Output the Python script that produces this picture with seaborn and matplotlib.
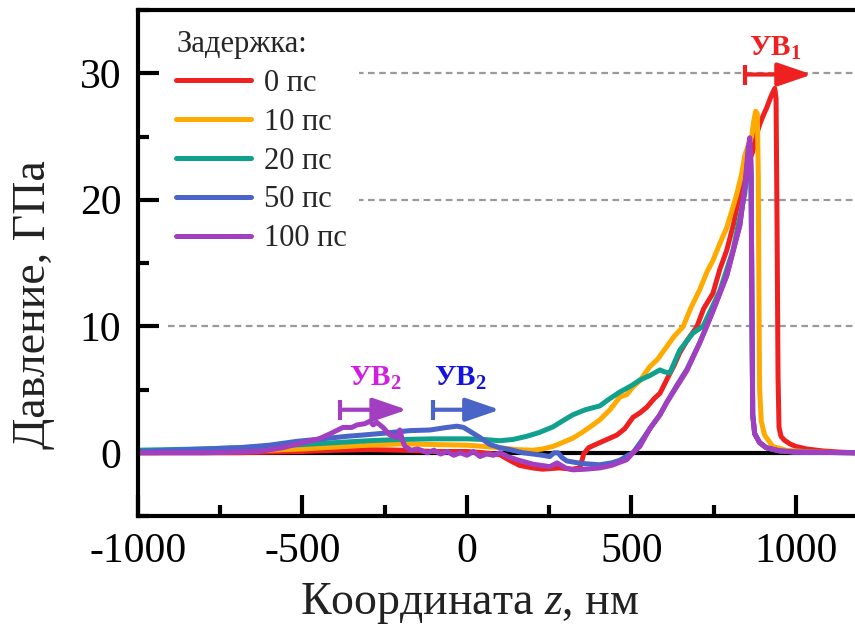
import matplotlib
matplotlib.use("Agg")
import matplotlib.pyplot as plt
import seaborn as sns
import pandas as pd
from matplotlib.ticker import MultipleLocator

sns.set_theme(style="white")
plt.rcParams['font.family'] = ['Liberation Serif', 'DejaVu Serif']
plt.rcParams['mathtext.fontset'] = 'custom'
plt.rcParams['mathtext.rm'] = 'Liberation Serif'
plt.rcParams['mathtext.it'] = 'Liberation Serif:italic'
plt.rcParams['mathtext.bf'] = 'Liberation Serif:bold'
plt.rcParams['axes.unicode_minus'] = False

# ---------------- data ----------------
labels = ["0 пс", "10 пс", "20 пс", "50 пс", "100 пс"]
colors = ["#ee2020", "#ffaa00", "#10a08e", "#4a64c8", "#a23fc0"]

z_0 = [-1000, -900, -800, -700, -600, -500, -400, -300, -200, -100, 0, 50, 100, 130, 160, 200,
       231, 280, 320, 343, 350, 355, 370, 404, 430, 456, 480, 505, 526, 547, 570, 587, 610,
       630, 647, 670, 699, 720, 748, 769, 790, 810, 830, 850, 869, 881, 891, 900, 912, 925,
       936, 940, 943, 946, 949, 955, 965, 982, 1000, 1033, 1080, 1134, 1180]
p_0 = [0.0, 0.0, 0.0, 0.0, 0.05, 0.1, 0.2, 0.25, 0.2, 0.1, 0.1, 0.0, -0.15, -0.6, -1.0, -1.2,
       -1.3, -1.2, -1.3, -1.2, -0.6, -0.1, 0.4, 0.8, 1.1, 1.4, 1.9, 2.8, 3.15, 3.6, 4.3, 4.7, 5.9,
       6.9, 7.9, 8.9, 9.95, 11.4, 12.6, 14.5, 16.0, 18.0, 20.5, 22.5, 23.8, 25.2, 26.0, 26.6, 27.3, 28.2,
       28.8, 28.0, 18.0, 6.0, 2.0, 1.3, 1.0, 0.7, 0.5, 0.3, 0.15, 0.05, 0.0]

z_10 = [-1000, -900, -800, -700, -600, -500, -400, -300, -200, -100, 0, 50, 100, 150, 201, 230,
        262, 290, 322, 350, 383, 404, 435, 465, 486, 505, 526, 556, 580, 608, 630, 657, 680, 708,
        730, 748, 770, 790, 810, 821, 835, 845, 858, 866, 872, 878, 883, 886, 888, 890, 895, 905,
        930, 970, 1050, 1180]
p_10 = [0.05, 0.05, 0.05, 0.1, 0.2, 0.3, 0.45, 0.6, 0.7, 0.65, 0.6, 0.5, 0.4, 0.25, 0.2, 0.3,
        0.5, 0.8, 1.15, 1.6, 2.2, 2.6, 3.4, 4.4, 4.6, 5.2, 5.7, 6.8, 7.4, 8.4, 9.2, 9.95, 11.4, 12.9,
        14.3, 15.2, 16.6, 17.8, 19.5, 20.5, 22.0, 23.5, 24.5, 25.0, 26.2, 27.0, 26.8, 22.0, 12.0, 5.0, 2.5, 1.4,
        0.5, 0.2, 0.05, 0.0]

z_20 = [-1000, -900, -800, -700, -600, -500, -400, -300, -200, -100, 0, 50, 100, 140, 182, 220,
        262, 290, 322, 360, 404, 430, 465, 500, 526, 556, 587, 600, 617, 647, 687, 718, 740, 769,
        809, 845, 855, 860, 864, 867, 869, 875, 890, 910, 950, 1000, 1180]
p_20 = [0.2, 0.25, 0.3, 0.4, 0.5, 0.65, 0.8, 0.95, 1.05, 1.1, 1.1, 1.05, 0.95, 1.05, 1.3, 1.6,
        2.05, 2.5, 3.0, 3.4, 3.7, 4.2, 4.8, 5.3, 5.75, 6.1, 6.55, 6.4, 6.3, 8.1, 9.45, 10.0, 11.2, 12.8,
        16.0, 20.5, 23.0, 23.8, 22.0, 10.0, 3.0, 1.5, 0.8, 0.4, 0.15, 0.05, 0.0]

z_50 = [-1000, -900, -800, -690, -600, -517, -440, -365, -316, -250, -213, -173, -112, -61, -30, -10,
        9, 40, 70, 100, 131, 170, 201, 230, 252, 265, 277, 290, 304, 350, 404, 440, 465, 490, 505,
        530, 556, 587, 608, 640, 669, 708, 729, 748, 790, 830, 845, 855, 860, 864, 867, 869, 875,
        890, 910, 950, 1000, 1180]
p_50 = [0.1, 0.2, 0.3, 0.4, 0.6, 0.9, 1.1, 1.3, 1.4, 1.55, 1.65, 1.75, 1.8, 2.0, 2.1, 2.0,
        1.7, 1.2, 0.65, 0.4, 0.25, 0.0, -0.1, -0.2, -0.3, 0.0, 0.0, -0.4, -0.65, -0.85, -0.95, -0.8, -0.6, -0.2, 0.0,
        0.9, 1.9, 3.0, 4.0, 5.4, 6.6, 8.7, 10.0, 11.2, 14.0, 18.0, 21.0, 23.5, 24.0, 22.0, 10.0, 3.0, 1.5,
        0.8, 0.4, 0.15, 0.05, 0.0]

z_100 = [-1000, -900, -800, -700, -620, -560, -498, -450, -416, -377, -350, -334, -310, -295, -285, -274,
         -255, -234, -213, -204, -195, -188, -170, -150, -120, -100, -80, -60, -40, -20, 0, 20, 40, 60,
         80, 100, 125, 152, 200, 252, 274, 300, 322, 360, 404, 440, 486, 505, 526, 556, 587, 608, 640,
         669, 708, 729, 748, 790, 830, 845, 855, 860, 864, 867, 869, 875, 890, 910, 950, 1000, 1180]
p_100 = [0.0, 0.0, 0.0, 0.05, 0.15, 0.4, 0.8, 1.1, 1.5, 2.0, 2.0, 2.2, 2.3, 2.5, 2.2, 2.4,
         2.0, 1.4, 1.2, 1.8, 0.9, 0.5, 0.2, 0.3, 0.0, 0.2, -0.1, 0.1, -0.2, 0.0, -0.2, 0.1, -0.3, -0.1,
         -0.2, 0.0, -0.3, -0.55, -0.9, -1.1, -0.8, -1.2, -1.35, -1.3, -1.2, -1.0, -0.55, 0.0, 0.5, 1.9, 3.0, 4.0, 5.3,
         6.5, 8.7, 10.0, 11.2, 14.0, 18.0, 21.0, 24.0, 24.9, 23.0, 10.0, 3.0, 1.5, 0.8, 0.4, 0.15, 0.05, 0.0]

grid_levels = [10, 20, 30]
x_ticks = [-1000, -500, 0, 500, 1000]
y_ticks = [0, 10, 20, 30]

ann_text = ["УВ$_\\mathbf{1}$", "УВ$_\\mathbf{2}$", "УВ$_\\mathbf{2}$"]
ann_text_color = ["#ee2020", "#d21ee0", "#1414e0"]
ann_arrow_color = ["#ee2020", "#a23fc0", "#4a64c8"]
ann_text_x = [936, -280, -21]
ann_text_y = [32.0, 5.9, 5.9]
arrow_x0 = [845, -386, -103]
arrow_x1 = [1049, -182, 100]
arrow_y = [29.9, 3.4, 3.4]

# ---------------- frame ----------------
frames = []
for lab, zz, pp in zip(labels, [z_0, z_10, z_20, z_50, z_100], [p_0, p_10, p_20, p_50, p_100]):
    frames.append(pd.DataFrame({"z": zz, "P": pp, "delay": lab}))
df = pd.concat(frames, ignore_index=True)

fig = plt.figure(figsize=(8.55, 6.35), dpi=100)
ax = fig.add_axes([138 / 855, 119 / 635, 717 / 855, 506 / 635])

ax.hlines(grid_levels, -910, 1180, colors="#9a9a9a", linestyles=(0, (3, 2)), lw=1.6, zorder=1)
ax.axhline(0, color="black", lw=3, zorder=1.5)

sns.lineplot(data=df, x="z", y="P", hue="delay", hue_order=labels, palette=colors,
             estimator=None, sort=False, lw=3.6, ax=ax, zorder=2)

ax.set_xlim(-1000, 1180)
ax.set_ylim(-5, 35)
ax.set_xticks(x_ticks)
ax.set_yticks(y_ticks)
ax.xaxis.set_minor_locator(MultipleLocator(250))
ax.yaxis.set_minor_locator(MultipleLocator(5))
ax.tick_params(which="major", direction="in", length=15, width=3, color="black",
               labelsize=30, pad=12, bottom=True, left=True, top=False, right=False,
               labelcolor="black")
ax.tick_params(which="minor", direction="in", length=8, width=3, color="black",
               bottom=True, left=True, top=False, right=False)

for s in ["left", "bottom", "top"]:
    ax.spines[s].set_color("black")
    ax.spines[s].set_linewidth(3)
ax.spines["right"].set_visible(False)

xl = ax.set_xlabel("Координата $z$, нм", fontsize=33, color="#222222")
yl = ax.set_ylabel("Давление, ГПа", fontsize=33, color="#222222")
xl.set_verticalalignment("center")
yl.set_verticalalignment("center")
ax.xaxis.set_label_coords(0.463, -0.172)
ax.yaxis.set_label_coords(-0.146, 0.417)

# annotations
for t, tc, ac, tx, ty, x0, x1, ay in zip(ann_text, ann_text_color, ann_arrow_color,
                                         ann_text_x, ann_text_y, arrow_x0, arrow_x1, arrow_y):
    ax.text(tx, ty, t, color=tc, fontsize=21, fontweight="bold", ha="center", va="center", zorder=6)
    ax.annotate("", xy=(x1, ay), xytext=(x0, ay),
                arrowprops=dict(arrowstyle="-|>,head_length=1.05,head_width=0.36", color=ac, lw=3,
                                shrinkA=0, shrinkB=0, mutation_scale=20), zorder=6)
    ax.plot([x0], [ay], marker="|", markersize=14, mew=3, color=ac, zorder=6)

handles, labs = ax.get_legend_handles_labels()
for h in handles:
    h.set_linewidth(3.6)
leg = ax.legend(handles, labs, title="Задержка:", loc="upper left",
                bbox_to_anchor=(0.036, 0.984), borderaxespad=0, fontsize=22, title_fontsize=22,
                frameon=True, facecolor="white", edgecolor="none", framealpha=1,
                handlelength=2.45, handletextpad=0.42, labelspacing=0.32, alignment="left",
                borderpad=0.4, fancybox=False)
leg.set_zorder(5)

fig.savefig("out.png", dpi=100)
